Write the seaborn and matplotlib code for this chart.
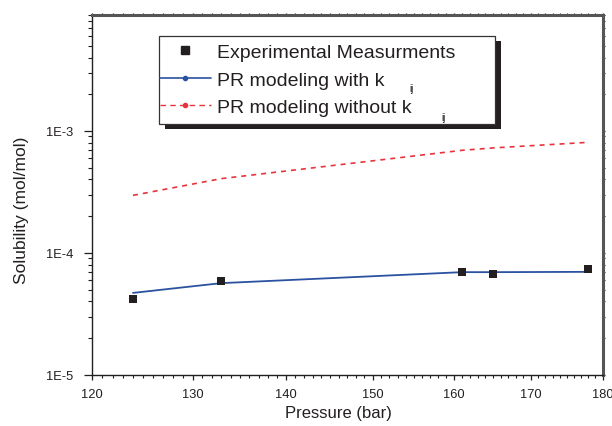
import numpy as np
import pandas as pd
import matplotlib
matplotlib.use("Agg")
import matplotlib.pyplot as plt
from matplotlib.lines import Line2D
from matplotlib.patches import Rectangle
from matplotlib.ticker import FixedLocator, NullFormatter, LogLocator
import seaborn as sns

# Measured solubility
exp_pressure = [124, 133, 161, 165, 178]
exp_solubility = [4.19e-5, 5.85e-5, 6.98e-5, 6.68e-5, 7.35e-5]

# Peng-Robinson model results
model_pressure = [124, 133, 161, 165, 178]
pr_with_kij = [4.69e-5, 5.64e-5, 6.94e-5, 6.94e-5, 6.98e-5]
pr_without_kij = [2.96e-4, 4.06e-4, 6.93e-4, 7.25e-4, 8.06e-4]

x_ticks = [120, 130, 140, 150, 160, 170, 180]
y_ticks = [1e-5, 1e-4, 1e-3]
y_tick_labels = ["1E-5", "1E-4", "1E-3"]

exp_df = pd.DataFrame({"Pressure": exp_pressure, "Solubility": exp_solubility})
model_df = pd.DataFrame({
    "Pressure": model_pressure * 2,
    "Solubility": pr_with_kij + pr_without_kij,
    "Model": ["with"] * len(model_pressure) + ["without"] * len(model_pressure),
})

sns.set_style("ticks")
plt.rcParams["font.family"] = ["Liberation Sans", "DejaVu Sans"]

text_color = "#231f20"
blue = "#2a52a0"
red = "#e8333c"

W, H = 612, 427
fig = plt.figure(figsize=(W / 100, H / 100), dpi=100)
ax = fig.add_axes([0.1498, 0.1201, 0.8347, 0.8434])


def fig_xy(px, py):
    """Pixel position (from the top-left corner) to figure fraction."""
    return px / W, 1 - py / H


sns.lineplot(data=model_df[model_df.Model == "with"], x="Pressure", y="Solubility",
             color=blue, lw=1.3, ax=ax, legend=False, zorder=2)
sns.lineplot(data=model_df[model_df.Model == "without"], x="Pressure", y="Solubility",
             color=red, lw=1.2, ax=ax, legend=False, zorder=2)
ax.lines[-1].set_dashes([3, 3])
sns.scatterplot(data=exp_df, x="Pressure", y="Solubility", marker="s", s=34,
                color=text_color, edgecolor="none", ax=ax, zorder=3, legend=False)

ax.set_xscale("log")
ax.set_yscale("log")
ax.set_xlim(120, 180)
ax.set_ylim(1e-5, 9e-3)

ax.xaxis.set_major_locator(FixedLocator(x_ticks))
ax.set_xticklabels([str(t) for t in x_ticks])
ax.xaxis.set_minor_locator(FixedLocator([v for v in range(120, 181) if v % 10]))
ax.xaxis.set_minor_formatter(NullFormatter())

ax.yaxis.set_major_locator(FixedLocator(y_ticks))
ax.set_yticklabels(y_tick_labels)
ax.yaxis.set_minor_locator(LogLocator(base=10, subs=np.arange(2, 10)))
ax.yaxis.set_minor_formatter(NullFormatter())

ax.tick_params(which="both", direction="out", colors=text_color, top=True, right=True)
ax.tick_params(axis="x", which="major", length=3.5, width=0.9, labelsize=9.3, pad=6)
ax.tick_params(axis="x", which="minor", length=2.5, width=0.8)
ax.tick_params(axis="y", which="major", length=6, width=0.9, labelsize=9.3, pad=7.5)
ax.tick_params(axis="y", which="minor", length=3, width=0.8)
# short marks on the heavy top/right frame
for axis in (ax.xaxis, ax.yaxis):
    for minor in (False, True):
        for t in axis.get_ticklines(minor=minor)[1::2]:
            t.set_markersize(1.2)
            t.set_color("#444444")

for side in ["left", "bottom"]:
    ax.spines[side].set_color(text_color)
    ax.spines[side].set_linewidth(1.0)
for side in ["top", "right"]:
    ax.spines[side].set_visible(True)
    ax.spines[side].set_color("#555555")
    ax.spines[side].set_linewidth(2.2)

ax.set_xlabel("Pressure (bar)", fontsize=12, color=text_color)
ax.set_ylabel("Solubility (mol/mol)", fontsize=12.5, color=text_color)
ax.xaxis.set_label_coords(0.484, -0.083)
ax.yaxis.set_label_coords(-0.123, 0.46)

# legend frame with its drop shadow
x0, y0, x1, y1 = 159.3, 37.3, 495.0, 125.0
sx, sy = fig_xy(x0 + 5.5, y1 + 5.0)
fig.add_artist(Rectangle((sx, sy), (x1 - x0) / W, (y1 - y0) / H,
                         transform=fig.transFigure, facecolor="#231f20",
                         edgecolor="none", zorder=20))
fx, fy = fig_xy(x0, y1)
fig.add_artist(Rectangle((fx, fy), (x1 - x0) / W, (y1 - y0) / H,
                         transform=fig.transFigure, facecolor="white",
                         edgecolor="#333333", lw=0.9, zorder=21))

handles = [
    Line2D([], [], ls="none", marker="s", ms=6, color=text_color),
    Line2D([], [], color=blue, lw=1.2, marker="o", ms=3),
    Line2D([], [], color=red, lw=1.0, ls=(0, (4, 3)), marker="o", ms=3),
]
labels = ["Experimental Measurments", "PR modeling with k", "PR modeling without k"]
leg = fig.legend(handles, labels, loc="upper left", bbox_to_anchor=fig_xy(x0 - 5.5, y0 + 1.5),
                 bbox_transform=fig.transFigure, frameon=False, fontsize=14,
                 handlelength=2.65, handletextpad=0.3, labelspacing=0.5,
                 borderpad=0.3, borderaxespad=0, labelcolor=text_color)
leg.set_zorder(22)

# subscripts of the k_ij labels
for (px, py) in [(411.7, 89.3), (443.3, 118.3)]:
    fig.text(*fig_xy(px, py), "ij", fontsize=7, color=text_color,
             ha="center", va="center", zorder=23)

fig.savefig("out.png", dpi=100)
